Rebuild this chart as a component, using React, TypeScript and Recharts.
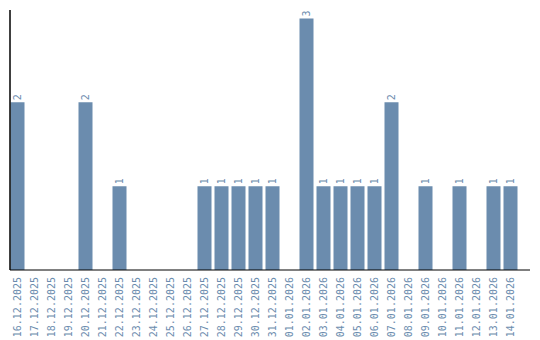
import { BarChart, Bar, XAxis, YAxis, LabelList } from 'recharts';

const dates = [
  '16.12.2025', '17.12.2025', '18.12.2025', '19.12.2025', '20.12.2025',
  '21.12.2025', '22.12.2025', '23.12.2025', '24.12.2025', '25.12.2025',
  '26.12.2025', '27.12.2025', '28.12.2025', '29.12.2025', '30.12.2025',
  '31.12.2025', '01.01.2026', '02.01.2026', '03.01.2026', '04.01.2026',
  '05.01.2026', '06.01.2026', '07.01.2026', '08.01.2026', '09.01.2026',
  '10.01.2026', '11.01.2026', '12.01.2026', '13.01.2026', '14.01.2026',
];

const counts = [
  2, 0, 0, 0, 2, 0, 1, 0, 0, 0, 0, 1, 1, 1, 1,
  1, 0, 3, 1, 1, 1, 1, 2, 0, 1, 0, 1, 0, 1, 1,
];

const data = dates.map((date, i) => ({ date, count: counts[i] }));

const BLUE = '#6b8cae';
const FONT = 'DejaVu Sans Mono, monospace';

const DateTick = (props: any) => {
  const { x, y, payload } = props;
  return (
    <text
      transform={`translate(${x},${y + 5}) rotate(-90)`}
      textAnchor="end"
      dy="0.35em"
      fill={BLUE}
      fontSize={10}
      fontFamily={FONT}
    >
      {payload.value}
    </text>
  );
};

const ValueLabel = (props: any) => {
  const { x, y, width, value } = props;
  if (!value) return null;
  const cx = x + width / 2;
  return (
    <text
      transform={`translate(${cx},${y - 2}) rotate(-90)`}
      textAnchor="start"
      dy="0.35em"
      fill={BLUE}
      fontSize={10}
      fontFamily={FONT}
    >
      {value}
    </text>
  );
};

export default function App() {
  return (
    <div style={{ width: 540, height: 340 }}>
      <style>{`body{margin:0}`}</style>
      <BarChart
        width={540}
        height={340}
        data={data}
        margin={{ top: 10, right: 10, left: 9, bottom: 0 }}
      >
        <XAxis
          dataKey="date"
          height={70}
          interval={0}
          tickLine={false}
          tickSize={0}
          tick={<DateTick />}
          axisLine={{ stroke: '#000' }}
          padding={{ left: -1.5, right: 11.5 }}
        />
        <YAxis
          width={1}
          domain={[0, 3.1]}
          tick={false}
          tickLine={false}
          axisLine={{ stroke: '#000', strokeWidth: 1.5 }}
        />
        <Bar dataKey="count" fill={BLUE} barSize={14} isAnimationActive={false}>
          <LabelList dataKey="count" content={<ValueLabel />} />
        </Bar>
      </BarChart>
    </div>
  );
}
